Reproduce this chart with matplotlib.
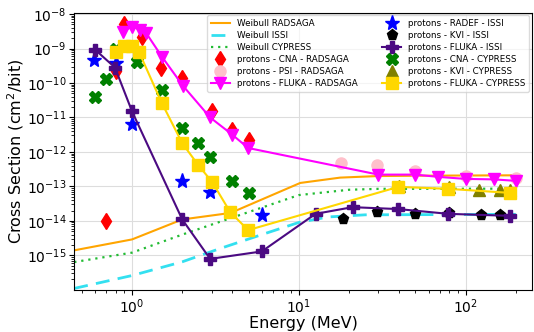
import matplotlib
matplotlib.use("Agg")
import matplotlib.pyplot as plt

# Weibull fits
wb_radsaga_e = [0.45, 1.0, 2.0, 3.9, 10.2, 17.7, 30.0, 60.0, 200.0]
wb_radsaga_s = [1.4e-15, 2.9e-15, 1.1e-14, 1.7e-14, 1.26e-13, 1.8e-13, 2.0e-13, 2.05e-13, 2.1e-13]
wb_issi_e = [0.45, 1.0, 2.0, 3.4, 6.0, 10.0, 15.0, 25.0, 200.0]
wb_issi_s = [1.1e-16, 2.6e-16, 6.5e-16, 1.6e-15, 4.0e-15, 9.0e-15, 1.3e-14, 1.5e-14, 1.55e-14]
wb_cypress_e = [0.45, 1.0, 2.0, 4.0, 10.0, 20.0, 30.0, 200.0]
wb_cypress_s = [6.4e-16, 1.2e-15, 4.0e-15, 1.25e-14, 5.6e-14, 8.0e-14, 8.5e-14, 8.6e-14]

# RADSAGA measurements / simulation
cna_radsaga_e = [0.7, 0.8, 0.9, 1.15, 1.5, 2.0, 3.0, 4.0, 5.0]
cna_radsaga_s = [1e-14, 2.2e-10, 5e-9, 2.2e-9, 2.8e-10, 1.4e-10, 1.5e-11, 4.4e-12, 2.2e-12]
psi_radsaga_e = [17.8, 29.6, 49.5, 100.0, 200.0]
psi_radsaga_s = [4.8e-13, 4.2e-13, 2.8e-13, 2.0e-13, 1.8e-13]
fluka_radsaga_e = [0.88, 1.0, 1.12, 1.21, 1.51, 2.02, 2.94, 3.98, 4.97, 30.0, 50.0, 68.0, 100.0, 148.0, 200.0]
fluka_radsaga_s = [3.1e-9, 4.3e-9, 3.5e-9, 2.9e-9, 5.8e-10, 8.3e-11, 1e-11, 3.2e-12, 1.3e-12,
                   2.2e-13, 2.2e-13, 1.9e-13, 1.65e-13, 1.6e-13, 1.45e-13]

# ISSI
radef_issi_e = [0.59, 0.8, 1.0, 2.0, 2.94, 6.04]
radef_issi_s = [4.8e-10, 3.9e-10, 6.6e-12, 1.45e-13, 6.9e-14, 1.5e-14]
kvi_issi_e = [18.5, 29.3, 50.0, 80.0, 123.0, 162.0]
kvi_issi_s = [1.1e-14, 1.8e-14, 1.6e-14, 1.7e-14, 1.5e-14, 1.5e-14]
fluka_issi_e = [0.6, 0.79, 1.0, 2.0, 2.94, 6.0, 12.6, 21.0, 39.6, 79.0, 186.0]
fluka_issi_s = [9.3e-10, 2.8e-10, 1.5e-11, 1.1e-14, 7.9e-16, 1.3e-15, 1.6e-14, 2.5e-14, 2.2e-14, 1.6e-14, 1.4e-14]

# CYPRESS
cna_cypress_e = [0.6, 0.7, 0.8, 0.92, 1.07, 1.51, 2.0, 2.49, 2.95, 4.0, 5.0]
cna_cypress_s = [4e-11, 1.3e-10, 1.0e-9, 1.2e-9, 4e-10, 6.4e-11, 5e-12, 1.8e-12, 7.2e-13, 1.45e-13, 6.5e-14]
kvi_cypress_e = [40.0, 80.0, 121.0, 162.0, 185.0]
kvi_cypress_s = [1.0e-13, 9.5e-14, 7.9e-14, 7.9e-14, 7.9e-14]
fluka_cypress_e = [0.8, 0.9, 1.0, 1.1, 1.51, 2.0, 2.49, 3.02, 3.88, 4.97, 39.6, 79.0, 184.0]
fluka_cypress_s = [8e-10, 1.2e-9, 1.2e-9, 8e-10, 2.6e-11, 1.8e-12, 4.2e-13, 1.35e-13, 1.8e-14, 5.4e-15,
                   9.7e-14, 8.5e-14, 6.5e-14]

fig = plt.figure(figsize=(5.34, 3.32), dpi=100)
ax = fig.add_axes([0.139, 0.127, 0.857, 0.835])

ax.plot(wb_radsaga_e, wb_radsaga_s, color="orange", lw=1.5, label="Weibull RADSAGA")
ax.plot(wb_issi_e, wb_issi_s, color="#33E0F0", lw=2, ls=(0, (5, 3)), label="Weibull ISSI")
ax.plot(wb_cypress_e, wb_cypress_s, color="#22BB33", lw=1.6, ls=(0, (1, 2.2)), label="Weibull CYPRESS")

ax.plot(cna_radsaga_e, cna_radsaga_s, "d", color="red", ms=8, ls="none", label="protons - CNA - RADSAGA", zorder=3)
ax.plot(psi_radsaga_e, psi_radsaga_s, "o", color="pink", ms=8, ls="none", label="protons - PSI - RADSAGA", zorder=3)
ax.plot(fluka_radsaga_e, fluka_radsaga_s, "v-", color="magenta", ms=9, lw=1.5, label="protons - FLUKA - RADSAGA", zorder=4)

ax.plot(radef_issi_e, radef_issi_s, "*", color="blue", ms=11, ls="none", label="protons - RADEF - ISSI", zorder=3)
ax.plot(kvi_issi_e, kvi_issi_s, "p", color="black", ms=8, ls="none", label="protons - KVI - ISSI", zorder=3)
ax.plot(fluka_issi_e, fluka_issi_s, "P-", color="#4B0A82", ms=9, lw=1.5, label="protons - FLUKA - ISSI", zorder=4)

ax.plot(cna_cypress_e, cna_cypress_s, "X", color="green", ms=9, ls="none", label="protons - CNA - CYPRESS", zorder=3)
ax.plot(kvi_cypress_e, kvi_cypress_s, "^", color="olive", ms=8, ls="none", label="protons - KVI - CYPRESS", zorder=3)
ax.plot(fluka_cypress_e, fluka_cypress_s, "s-", color="gold", ms=8, lw=1.5, label="protons - FLUKA - CYPRESS", zorder=4)

ax.set_xscale("log")
ax.set_yscale("log")
ax.set_xlim(0.45, 250)
ax.set_ylim(1e-16, 1.1e-8)
ax.set_yticks([1e-15, 1e-14, 1e-13, 1e-12, 1e-11, 1e-10, 1e-9, 1e-8])
ax.grid(True, which="major", color="#dddddd", lw=0.8)
ax.tick_params(labelsize=10, pad=2)
ax.set_xlabel("Energy (MeV)", fontsize=11.5, labelpad=0)
ax.set_ylabel("Cross Section (cm$^2$/bit)", fontsize=11.5, labelpad=1)

ax.legend(ncol=2, fontsize=6.3, loc="upper right", framealpha=0.7,
          handlelength=2.2, columnspacing=2.8, labelspacing=0.35, borderaxespad=0.3)

fig.savefig("out.png", dpi=100)
